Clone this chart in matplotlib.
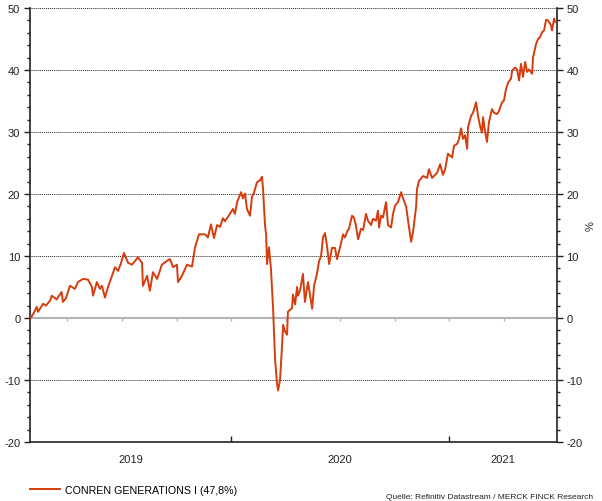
import matplotlib.pyplot as plt
import numpy as np

# time in decimal years, performance in %
years = [
    2019.081, 2019.092, 2019.109, 2019.115, 2019.124, 2019.138, 2019.151, 2019.170,
    2019.178, 2019.200, 2019.223, 2019.229, 2019.243, 2019.261, 2019.284, 2019.298,
    2019.321, 2019.344, 2019.362, 2019.367, 2019.385, 2019.399, 2019.408, 2019.422,
    2019.436, 2019.454, 2019.468, 2019.482, 2019.495, 2019.509, 2019.528, 2019.546,
    2019.560, 2019.573, 2019.592, 2019.596, 2019.615, 2019.628, 2019.642, 2019.661,
    2019.683, 2019.706, 2019.720, 2019.734, 2019.752, 2019.757, 2019.775, 2019.798,
    2019.821, 2019.835, 2019.853, 2019.881, 2019.894, 2019.908, 2019.922, 2019.936,
    2019.950, 2019.963, 2019.972, 2019.995, 2020.009, 2020.018, 2020.028, 2020.046,
    2020.055, 2020.064, 2020.073, 2020.087, 2020.096, 2020.106, 2020.119, 2020.133,
    2020.142, 2020.147, 2020.156, 2020.161, 2020.165, 2020.174, 2020.183, 2020.193,
    2020.202, 2020.211, 2020.216, 2020.225, 2020.234, 2020.239, 2020.248, 2020.257,
    2020.261, 2020.280, 2020.284, 2020.294, 2020.303, 2020.307, 2020.317, 2020.330,
    2020.339, 2020.353, 2020.372, 2020.381, 2020.394, 2020.404, 2020.413, 2020.422,
    2020.431, 2020.440, 2020.450, 2020.463, 2020.477, 2020.486, 2020.500, 2020.514,
    2020.523, 2020.532, 2020.541, 2020.555, 2020.564, 2020.573, 2020.583, 2020.596,
    2020.606, 2020.619, 2020.628, 2020.642, 2020.651, 2020.665, 2020.674, 2020.679,
    2020.688, 2020.697, 2020.711, 2020.720, 2020.734, 2020.743, 2020.752, 2020.766,
    2020.780, 2020.789, 2020.803, 2020.812, 2020.826, 2020.835, 2020.849, 2020.853,
    2020.862, 2020.881, 2020.899, 2020.908, 2020.922, 2020.936, 2020.945, 2020.959,
    2020.972, 2020.982, 2020.995, 2021.014, 2021.023, 2021.037, 2021.046, 2021.055,
    2021.064, 2021.073, 2021.083, 2021.087, 2021.101, 2021.110, 2021.115, 2021.124,
    2021.133, 2021.142, 2021.151, 2021.156, 2021.165, 2021.174, 2021.183, 2021.197,
    2021.206, 2021.220, 2021.229, 2021.243, 2021.252, 2021.261, 2021.271, 2021.284,
    2021.289, 2021.303, 2021.312, 2021.321, 2021.330, 2021.339, 2021.349, 2021.358,
    2021.367, 2021.381, 2021.385, 2021.399, 2021.408, 2021.417, 2021.427, 2021.436,
    2021.445, 2021.454, 2021.468, 2021.472, 2021.482, 2021.486,
]
perf = [
    0.0, 0.6, 1.8, 1.0, 1.5, 2.3, 2.0, 2.8,
    3.6, 3.0, 4.2, 2.6, 3.2, 5.2, 4.7, 5.8,
    6.3, 6.2, 5.0, 3.6, 5.8, 4.7, 5.2, 3.3,
    5.0, 6.8, 8.2, 7.6, 8.8, 10.5, 8.9, 8.6,
    9.2, 9.8, 8.9, 5.2, 6.8, 4.4, 7.4, 6.3,
    8.6, 9.2, 9.5, 8.2, 8.6, 5.8, 6.8, 8.6,
    8.3, 11.4, 13.5, 13.5, 13.0, 15.1, 12.9, 15.0,
    14.7, 16.1, 15.6, 16.8, 17.6, 16.8, 18.7, 20.3,
    19.3, 20.1, 17.6, 16.5, 19.5, 20.3, 21.9, 22.2,
    22.8, 20.7, 14.9, 13.5, 8.7, 11.4, 8.0, 1.5,
    -6.6, -10.6, -11.7, -9.9, -4.5, -1.1, -2.2, -2.7,
    1.0, 1.6, 3.8, 2.2, 5.0, 3.6, 4.5, 7.1,
    2.6, 5.8, 1.5, 5.2, 7.1, 9.2, 10.0, 13.0,
    13.7, 11.7, 8.7, 11.3, 11.3, 9.5, 11.4, 13.5,
    13.0, 13.9, 14.4, 16.5, 16.2, 14.9, 12.7, 14.4,
    14.2, 16.8, 15.7, 15.0, 16.0, 15.7, 17.3, 14.6,
    16.5, 16.2, 18.7, 15.0, 14.6, 16.8, 18.1, 18.7,
    20.3, 19.3, 18.0, 15.7, 12.3, 13.9, 18.0, 20.8,
    22.1, 22.9, 22.6, 24.0, 22.6, 23.1, 23.4, 24.8,
    23.1, 24.0, 26.5, 25.9, 27.8, 28.1, 28.9, 30.6,
    28.9, 29.5, 27.3, 30.8, 32.6, 33.1, 33.7, 34.8,
    32.6, 31.0, 29.9, 32.4, 30.1, 28.4, 31.6, 33.7,
    33.1, 32.9, 33.4, 34.8, 35.1, 36.9, 38.0, 38.6,
    39.9, 40.4, 40.1, 38.3, 41.0, 38.9, 41.3, 39.7,
    40.1, 39.4, 42.0, 44.2, 45.0, 45.3, 46.1, 46.4,
    48.1, 48.0, 47.2, 46.4, 48.3, 47.8,
]
series_name = 'CONREN GENERATIONS I (47,8%)'
year_labels = ['2019', '2020', '2021']
x_start, x_end = 2019.078, 2021.493

plt.rcParams['font.family'] = ['Liberation Sans', 'DejaVu Sans']
plt.rcParams['axes.unicode_minus'] = False

fig = plt.figure(figsize=(6.02, 5.02), dpi=100)
ax = fig.add_axes([0.0498, 0.1175, 0.8747, 0.8645])

line_color = '#d63c0c'
ax.plot(years, perf, color=line_color, lw=1.4, label=series_name, zorder=3)

ax.set_xlim(x_start, x_end)
ax.set_ylim(-20, 50)

# grid: dotted lines, zero line solid grey
for v in [-10, 10, 20, 30, 40, 50]:
    ax.axhline(v, color='#222222', lw=0.7, ls=(0, (1, 1)), zorder=1)
ax.axhline(0, color='#b4b4b4', lw=1.5, zorder=2)
quarters = np.arange(2019.25, x_end, 0.25)
ax.vlines(quarters, -0.5, 0, color='#b4b4b4', lw=1, zorder=2)

# spines
ax.spines['top'].set_visible(False)
for s in ['left', 'right', 'bottom']:
    ax.spines[s].set_color('#222222')
    ax.spines[s].set_linewidth(1.2)

# y axis on both sides
ax.set_yticks(np.arange(-20, 51, 10))
ax.set_yticks(np.arange(-20, 51, 2), minor=True)
ax.tick_params(axis='y', which='major', direction='out', length=4, width=1,
               left=True, right=True, labelleft=True, labelright=True,
               labelsize=8, pad=3, colors='#222222')
ax.tick_params(axis='y', which='minor', direction='out', length=2.5, width=1,
               left=True, right=True, colors='#222222')
ax.yaxis.set_label_position('right')
ax.set_ylabel('%', fontsize=8, labelpad=2, color='#222222')

# x axis: year boundaries as ticks, labels in middle of each year segment
ax.set_xticks([2020, 2021])
ax.set_xticklabels([])
ax.tick_params(axis='x', which='major', direction='in', length=4, width=1,
               colors='#222222')
bounds = [x_start, 2020, 2021, x_end]
for i, lab in enumerate(year_labels):
    mid = (bounds[i] + bounds[i + 1]) / 2
    ax.text(mid, -22.0, lab, ha='center', va='top', fontsize=8, color='#222222')

ax.legend(loc='center left', bbox_to_anchor=(0.0, -0.11), frameon=False,
          fontsize=7.7, handlelength=2.8, handletextpad=0.5, borderaxespad=0,
          borderpad=0)

fig.text(0.985, 0.008, 'Quelle: Refinitiv Datastream / MERCK FINCK Research',
         fontsize=6, color='#222222', ha='right', va='center')

plt.savefig('out.png', dpi=100)
plt.close()
